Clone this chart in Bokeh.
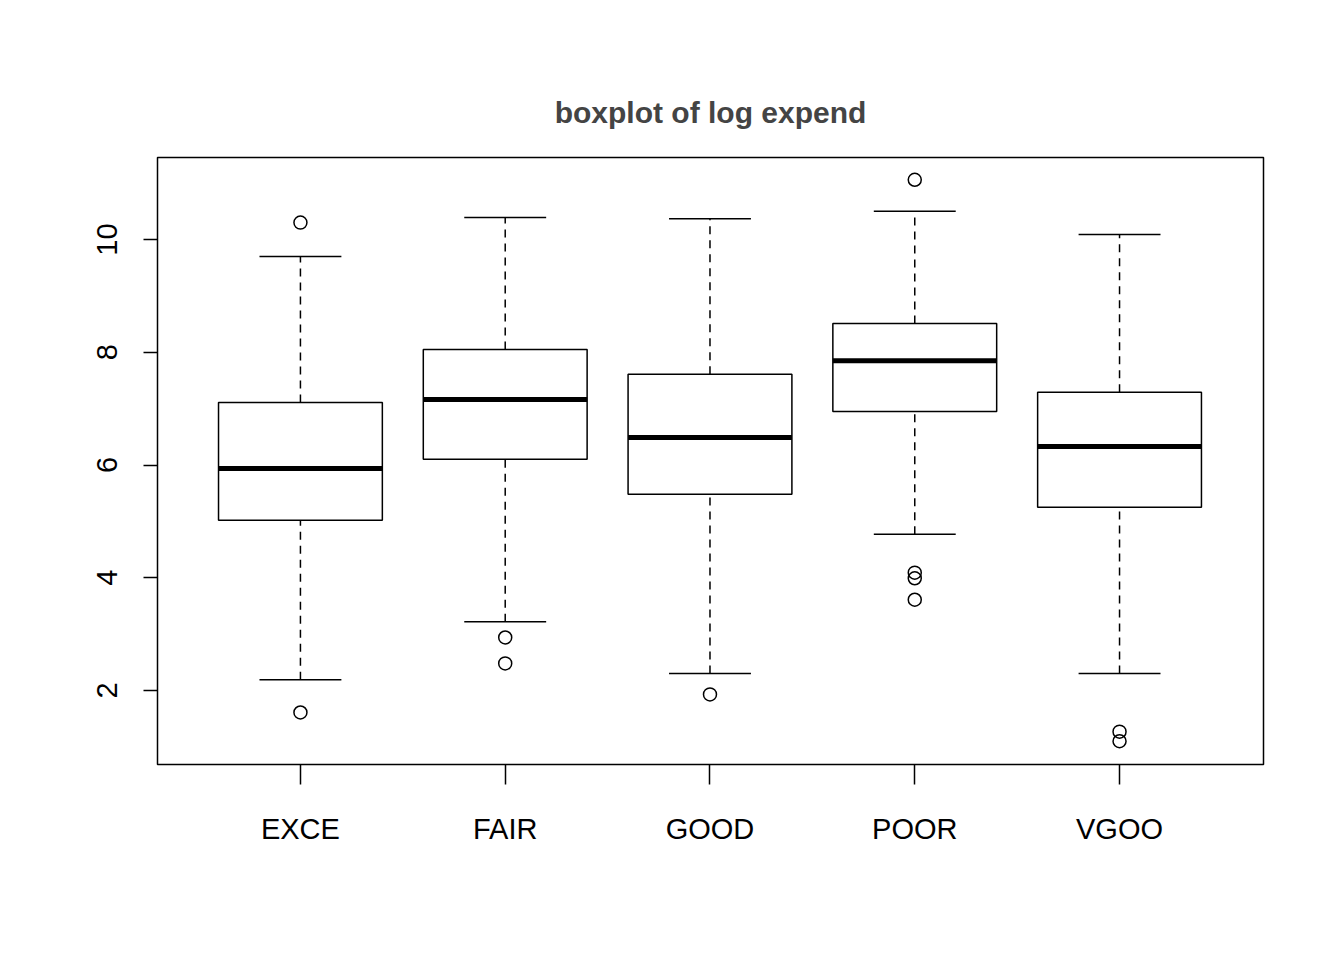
from bokeh.plotting import figure
from bokeh.models import ColumnDataSource, Range1d, FixedTicker
from bokeh.embed import file_html
from bokeh.resources import INLINE

groups = ["EXCE", "FAIR", "GOOD", "POOR", "VGOO"]
lower_whisker = [2.19, 3.22, 2.30, 4.77, 2.30]
q1 = [5.02, 6.10, 5.48, 6.95, 5.25]
median = [5.94, 7.16, 6.49, 7.85, 6.33]
q3 = [7.11, 8.05, 7.61, 8.51, 7.29]
upper_whisker = [9.70, 10.39, 10.37, 10.50, 10.09]
outlier_group = [1, 1, 2, 2, 3, 4, 4, 4, 4, 5, 5]
outlier_value = [10.30, 1.61, 2.94, 2.48, 1.93, 11.06, 4.09, 3.99, 3.61, 1.27, 1.10]

pos = list(range(1, len(groups) + 1))
src = ColumnDataSource(dict(
    x=pos, lw=lower_whisker, q1=q1, med=median, q3=q3, uw=upper_whisker,
    left=[p - 0.4 for p in pos], right=[p + 0.4 for p in pos],
    cl=[p - 0.2 for p in pos], cr=[p + 0.2 for p in pos],
))

p = figure(width=1328, height=944, output_backend="svg", toolbar_location=None,
           x_range=Range1d(0.302, 5.703), y_range=Range1d(0.687, 11.455),
           min_border_left=157, min_border_right=65, min_border_top=157,
           min_border_bottom=180, title="boxplot of log expend")
p.title.align = "center"
p.title.text_font = "Liberation Sans"
p.title.text_font_size = "30px"
p.title.text_font_style = "bold"
p.title.standoff = 58
p.xgrid.visible = False
p.ygrid.visible = False
p.outline_line_color = "black"
p.outline_line_width = 1.5

# whiskers
p.segment(x0="x", y0="q3", x1="x", y1="uw", source=src, line_color="black",
          line_width=1.5, line_dash="8 6")
p.segment(x0="x", y0="lw", x1="x", y1="q1", source=src, line_color="black",
          line_width=1.5, line_dash="8 6")
p.segment(x0="cl", y0="uw", x1="cr", y1="uw", source=src, line_color="black", line_width=1.5)
p.segment(x0="cl", y0="lw", x1="cr", y1="lw", source=src, line_color="black", line_width=1.5)
# boxes
p.quad(left="left", right="right", bottom="q1", top="q3", source=src,
       fill_color="white", line_color="black", line_width=1.5)
p.segment(x0="left", y0="med", x1="right", y1="med", source=src,
          line_color="black", line_width=5)
# outliers
p.scatter(outlier_group, outlier_value, marker="circle", size=13,
          fill_color=None, line_color="black", line_width=1.5)

for ax in (p.xaxis, p.yaxis):
    ax.axis_line_color = None
    ax.minor_tick_line_color = None
    ax.major_tick_line_width = 1.5
    ax.major_tick_in = 0
    ax.major_label_text_font = "Liberation Sans"
    ax.major_label_text_font_size = "29px"
    ax.major_label_text_color = "black"

p.xaxis.ticker = FixedTicker(ticks=pos)
p.xaxis.major_label_overrides = {i: g for i, g in zip(pos, groups)}
p.xaxis.major_tick_out = 20
p.xaxis.major_label_standoff = 28
p.yaxis.ticker = FixedTicker(ticks=[2, 4, 6, 8, 10])
p.yaxis.major_tick_out = 14
p.yaxis.major_label_orientation = "vertical"
p.yaxis.major_label_standoff = 26

open("out.html", "w").write(file_html(p, INLINE))
